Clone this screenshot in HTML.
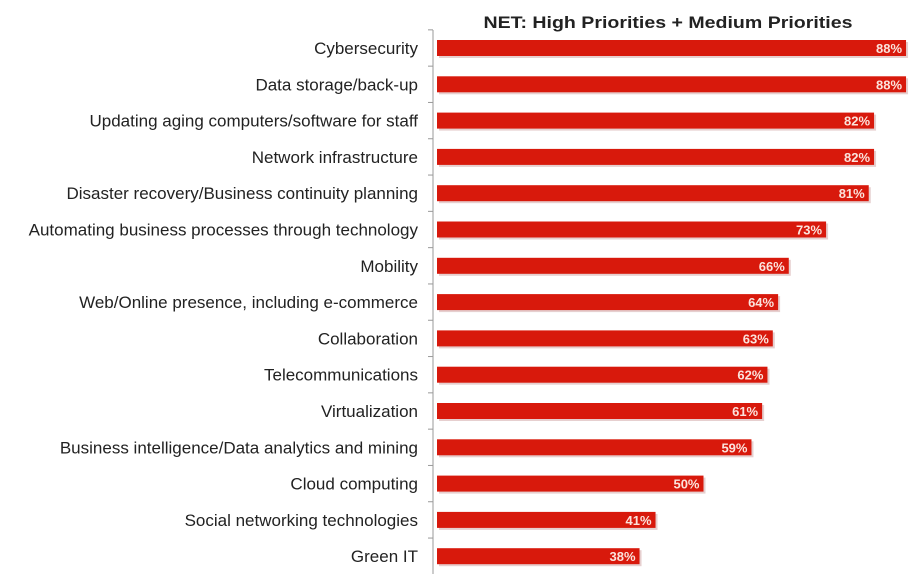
<!DOCTYPE html>
<html><head><meta charset="utf-8"><style>
body{margin:0;background:#fff;width:910px;height:574px;overflow:hidden}
svg text{font-family:"Liberation Sans",sans-serif}
</style></head><body>
<svg width="910" height="574">
<text x="668" y="28" text-anchor="middle" font-size="17" font-weight="bold" fill="#222" textLength="369" lengthAdjust="spacingAndGlyphs">NET: High Priorities + Medium Priorities</text>
<line x1="433" y1="30" x2="433" y2="574" stroke="#999" stroke-width="1"/>
<g id="g"></g>
</svg>
<script>
const categories=["Cybersecurity","Data storage/back-up","Updating aging computers/software for staff","Network infrastructure","Disaster recovery/Business continuity planning","Automating business processes through technology","Mobility","Web/Online presence, including e-commerce","Collaboration","Telecommunications","Virtualization","Business intelligence/Data analytics and mining","Cloud computing","Social networking technologies","Green IT"];
const values=[88,88,82,82,81,73,66,64,63,62,61,59,50,41,38];
const labels=["88%","88%","82%","82%","81%","73%","66%","64%","63%","62%","61%","59%","50%","41%","38%"];
const x0=437,sc=5.33,y0=48,step=36.3,bh=16;
const xs=v=>x0+v*sc, ys=i=>y0+i*step;
const g=document.getElementById('g'),NS="http://www.w3.org/2000/svg";
function mk(t,a){const e=document.createElementNS(NS,t);for(const k in a)e.setAttribute(k,a[k]);g.appendChild(e);return e;}
values.forEach((v,i)=>{
 const y=ys(i);
 const s=mk('rect',{x:x0+2,y:y-bh/2+2,width:xs(v)-x0,height:bh,fill:'#e6cfcf'});
 
 
 const r=mk('rect',{x:x0,y:y-bh/2,width:xs(v)-x0,height:bh,fill:'#d8190c'});
 
 
 const t=mk('line',{x1:428,x2:433,y1:y-step/2,y2:y-step/2,stroke:'#999'});
 
 
 const c=mk('text',{x:418,y:y+6,'text-anchor':'end','font-size':17,fill:'#222'});
 c.textContent=categories[i];
 
 
 const l=mk('text',{x:xs(v)-4,y:y+5,'text-anchor':'end','font-size':13,'font-weight':'bold',fill:'#fbe3dc'});
 l.textContent=labels[i];
 
 
});
</script>
</body></html>
